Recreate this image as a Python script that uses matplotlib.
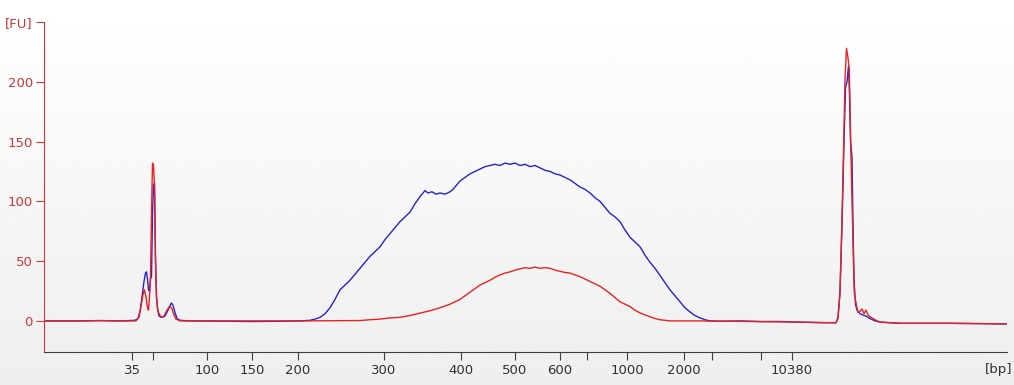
"""
Electropherogram (Bioanalyzer style) of two samples, blue and red traces.
The x axis is migration position; tick labels give the ladder sizes in bp.
"""
import numpy as np
import matplotlib
matplotlib.use("Agg")
import matplotlib.pyplot as plt

# ladder tick positions along the migration axis and their bp labels
x_ticks = [132, 153, 207, 252, 298, 384, 461, 515, 560, 587, 627, 684, 712, 761, 792]
x_labels = ["35", "", "100", "150", "200", "300", "400", "500", "600", "",
            "1000", "2000", "", "", "10380"]
y_ticks = [0, 50, 100, 150, 200, 250]
y_labels = ["0", "50", "100", "150", "200", "[FU]"]

# blue trace (position, FU)
blue_x = [44, 80, 100, 120, 135, 138, 140, 142, 144, 145.5, 146.5, 147.5, 148.5,
          149.5, 150.5, 151.5, 152.5, 153.5, 154.5, 155.5, 156.5, 157.5, 159, 162,
          165, 168, 170, 171.5, 173, 175, 177, 180, 190, 200, 250, 280, 300, 310,
          315, 320, 325, 330, 335, 340, 345, 350, 355, 360, 365, 370, 375, 380,
          385, 390, 395, 400, 405, 410, 415, 420, 423, 425, 428, 432, 436, 440,
          445, 450, 453, 456, 460, 465, 470, 475, 480, 485, 490, 495, 500, 505,
          510, 515, 520, 525, 530, 535, 540, 545, 550, 555, 560, 565, 570, 575,
          580, 585, 590, 595, 600, 605, 610, 615, 620, 625, 630, 635, 640, 645,
          650, 655, 660, 665, 670, 675, 680, 685, 690, 695, 700, 705, 710, 720,
          740, 760, 780, 800, 820, 836, 838, 840, 842, 844, 845.5, 847, 848.5,
          849.5, 850.5, 852, 853, 854, 855.5, 857, 860, 863, 866, 870, 875, 880,
          900, 950, 1007]
blue_y = [0, 0, 0.3, 0, 0.5, 2, 8, 20, 33, 40, 41, 35, 26,
          25, 35, 37, 90, 113, 115, 52, 20, 10, 4, 3,
          4, 9, 13, 15, 13, 7, 2, 0.5, 0, 0, -0.5, -0.3, 0, 0.5,
          1.5, 3, 6, 11, 18, 26, 30, 34, 39, 44, 49, 54, 58, 62,
          68, 73, 78, 83, 87, 91, 98, 104, 107, 109, 107, 108, 106, 107,
          106, 108, 110, 113, 117, 120, 123, 125, 127, 129, 130, 131, 130, 132,
          131, 132, 130, 131, 129, 130, 128, 126, 125, 123, 122, 120, 118, 115,
          112, 110, 107, 103, 100, 95, 90, 87, 83, 76, 70, 66, 62, 55,
          49, 44, 38, 32, 26, 21, 16, 11, 7.5, 4.5, 2.5, 1, 0, -0.3,
          0, -0.5, -0.5, -1, -1.5, -1.5, 3, 25, 80, 150, 195, 200, 213,
          190, 150, 137, 80, 35, 14, 9, 6, 5, 4, 2, 0, -1,
          -2, -2, -2.5]

# red trace (position, FU)
red_x = [44, 80, 100, 120, 136, 139, 141, 143, 144.5, 146, 147.5, 148.5, 149.5,
         150.5, 151.5, 152.5, 153.5, 154.5, 155.5, 156.5, 158, 161, 164, 167,
         169, 170.5, 172, 174, 176, 180, 300, 360, 370, 380, 390, 400, 410, 420,
         430, 440, 450, 460, 465, 470, 475, 480, 485, 490, 495, 500, 505, 510,
         515, 520, 525, 530, 535, 540, 545, 550, 555, 560, 565, 570, 575, 580,
         585, 590, 595, 600, 605, 610, 615, 620, 625, 630, 635, 640, 645, 650,
         655, 660, 670, 700, 750, 800, 836, 838, 840, 841.7, 843.3, 845, 846.5,
         848, 849.3, 851, 852.7, 854.3, 856.7, 858, 860, 862, 864, 866, 868,
         870, 875, 880, 900, 950, 1007]
red_y = [0, 0, 0.2, 0, 0, 3, 12, 22, 26, 20, 11, 9, 20,
         37, 90, 132, 130, 112, 50, 20, 8, 3, 4, 9,
         11.5, 12, 10, 5, 1.5, 0, 0, 0.3, 1, 1.5, 2.5, 3, 4.5, 6.5,
         8.5, 11, 14, 18, 21, 24, 27, 30, 32, 34, 36.5, 38.5, 40, 41,
         42.5, 43.5, 44.5, 44, 45, 44, 44.5, 44, 42.5, 41.5, 40.5, 40, 38.5, 37,
         35, 33, 31, 29, 26, 23, 19.5, 16, 14, 12, 9, 6.7, 5, 3.5,
         2, 1, 0, 0, -0.5, -1, -1.5, 2, 23, 76, 132, 202, 228,
         220, 210, 137, 76, 23, 12, 7, 8, 10, 6, 9, 5,
         3.5, 1, -1, -2, -2, -2.5]

W, H = 1014, 385
fig = plt.figure(figsize=(W / 100, H / 100), dpi=100)

# light grey vertical gradient behind everything
bg = fig.add_axes([0, 0, 1, 1], zorder=-1)
grad = np.linspace(1.0, 0.935, 256).reshape(-1, 1)
bg.imshow(grad, aspect="auto", cmap="gray", vmin=0, vmax=1, extent=[0, 1, 0, 1])
bg.axis("off")

ax = fig.add_axes([44 / W, (H - 352) / H, (1007 - 44) / W, (352 - 22) / H])
ax.set_facecolor("none")

ax.plot(blue_x, blue_y, color="#2424c8", lw=1.0)
ax.plot(red_x, red_y, color="#e62222", lw=1.0)

ax.set_xlim(44, 1007)
ax.set_ylim(-26, 250)

ax.set_xticks(x_ticks)
ax.set_xticklabels(x_labels)
ax.set_yticks(y_ticks)
ax.set_yticklabels(y_labels)

red_axis = "#d2383c"
for side in ("top", "right"):
    ax.spines[side].set_visible(False)
ax.spines["left"].set_color(red_axis)
ax.spines["bottom"].set_color("#404040")
ax.tick_params(axis="y", colors=red_axis, labelcolor="#c8383c", length=6,
               labelsize=9.5, pad=2)
ax.tick_params(axis="x", colors="#404040", labelcolor="#303030", length=6,
               labelsize=9.5, pad=3)

# unit label at the right end of the x axis
fig.text(1012 / W, (H - 370) / H, "[bp]", color="#303030", fontsize=9.5,
         va="center", ha="right")

fig.savefig("out.png", dpi=100)
